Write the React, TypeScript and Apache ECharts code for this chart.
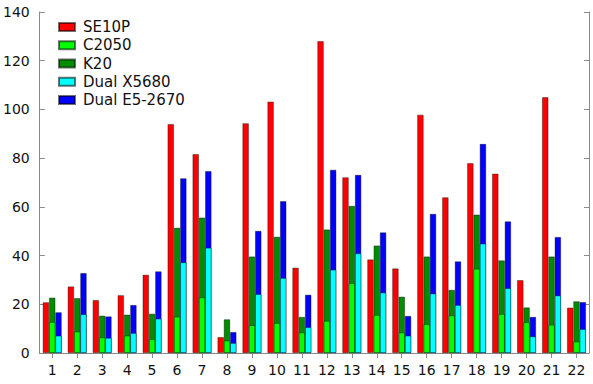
import React, { useEffect, useRef } from "react";
import * as echarts from "echarts";

const categories = ["1","2","3","4","5","6","7","8","9","10","11","12","13","14","15","16","17","18","19","20","21","22"];
const se10p = [20.8, 27.3, 21.7, 23.7, 32.1, 94, 81.6, 6.5, 94.3, 103.2, 35.0, 128, 72.1, 38.4, 34.7, 97.8, 63.9, 77.9, 73.6, 29.9, 105, 18.6];
const c2050 = [12.7, 8.8, 6.4, 7.1, 5.6, 14.9, 22.8, 5.1, 11.4, 12.3, 8.4, 13.2, 28.6, 15.6, 8.4, 11.8, 15.4, 34.6, 16.0, 12.6, 11.6, 4.7];
const k20 = [22.7, 22.5, 15.3, 15.7, 16.1, 51.4, 55.6, 13.8, 39.6, 47.7, 14.8, 50.7, 60.4, 44.1, 23.1, 39.6, 25.9, 56.8, 38.0, 18.7, 39.6, 21.2];
const x5680 = [7.1, 15.9, 6.2, 8.2, 14.1, 37.2, 43.2, 4.1, 24.2, 30.8, 10.6, 34.2, 40.9, 24.8, 7.1, 24.4, 19.7, 44.9, 26.6, 6.8, 23.6, 9.8];
const e52670 = [16.7, 32.8, 15.0, 19.7, 33.5, 71.7, 74.7, 8.6, 50.1, 62.3, 23.9, 75.2, 73.1, 49.5, 15.2, 57.1, 37.6, 85.8, 54.0, 14.8, 47.6, 20.9];
const legendNames = ["SE10P", "C2050", "K20", "Dual X5680", "Dual E5-2670"];

const FONT = "DejaVu Sans";
const AXIS_COLOR = "#8a8a8a";

export default function App() {
  const ref = useRef<HTMLDivElement>(null);
  useEffect(() => {
    if (!ref.current) return;
    const chart = echarts.init(ref.current, undefined, { renderer: "svg" });
    const border = { borderColor: "rgba(0,0,0,0.55)", borderWidth: 0.7 };
    const bar = (name: string, data: (number | string)[], color: string, xi: number, z: number) => ({
      type: "bar",
      name,
      data,
      xAxisIndex: xi,
      yAxisIndex: 0,
      barWidth: 6.3,
      barGap: "0%",
      z,
      itemStyle: { color, ...border },
    });
    const axisLine = { show: true, lineStyle: { color: AXIS_COLOR, width: 1 } };
    const tick = { show: true, inside: true, length: 5, lineStyle: { color: AXIS_COLOR } };
    chart.setOption({
      animation: false,
      backgroundColor: "#ffffff",
      grid: { left: 39, top: 12, right: 4, bottom: 31, containLabel: false },
      legend: {
        data: legendNames,
        orient: "vertical",
        left: 58,
        top: 19.5,
        padding: 0,
        itemWidth: 16,
        itemHeight: 8,
        itemGap: 3.25,
        icon: "rect",
        textStyle: { fontFamily: FONT, fontSize: 15, color: "#111", lineHeight: 14, padding: [0, 0, 0, 3] },
      },
      xAxis: [
        {
          type: "category",
          data: categories,
          position: "bottom",
          axisLine,
          axisTick: { ...tick, alignWithLabel: true },
          axisLabel: { fontFamily: FONT, fontSize: 14, color: "#111", margin: 10 },
          splitLine: { show: false },
        },
        {
          type: "category",
          data: categories,
          position: "top",
          axisLine,
          axisTick: { ...tick, alignWithLabel: true },
          axisLabel: { show: false },
          splitLine: { show: false },
        },
      ],
      yAxis: [
        {
          type: "value",
          min: 0,
          max: 140,
          interval: 20,
          position: "left",
          axisLine,
          axisTick: tick,
          axisLabel: { fontFamily: FONT, fontSize: 14, color: "#111", margin: 10 },
          splitLine: { show: false },
        },
        {
          type: "value",
          min: 0,
          max: 140,
          interval: 20,
          position: "right",
          axisLine,
          axisTick: tick,
          axisLabel: { show: false },
          splitLine: { show: false },
        },
      ],
      series: [
        bar("SE10P", se10p, "#ff0000", 0, 2),
        bar("K20", k20, "#008c00", 0, 2),
        bar("Dual E5-2670", e52670, "#0000ff", 0, 2),
        bar("__slot", categories.map(() => "-"), "transparent", 1, 3),
        bar("C2050", c2050, "#00ff00", 1, 3),
        bar("Dual X5680", x5680, "#00ffff", 1, 3),
      ],
    });
    return () => chart.dispose();
  }, []);
  return (
    <div
      ref={ref}
      style={{ position: "fixed", left: 0, top: 0, width: 593, height: 384, background: "#fff" }}
    />
  );
}
